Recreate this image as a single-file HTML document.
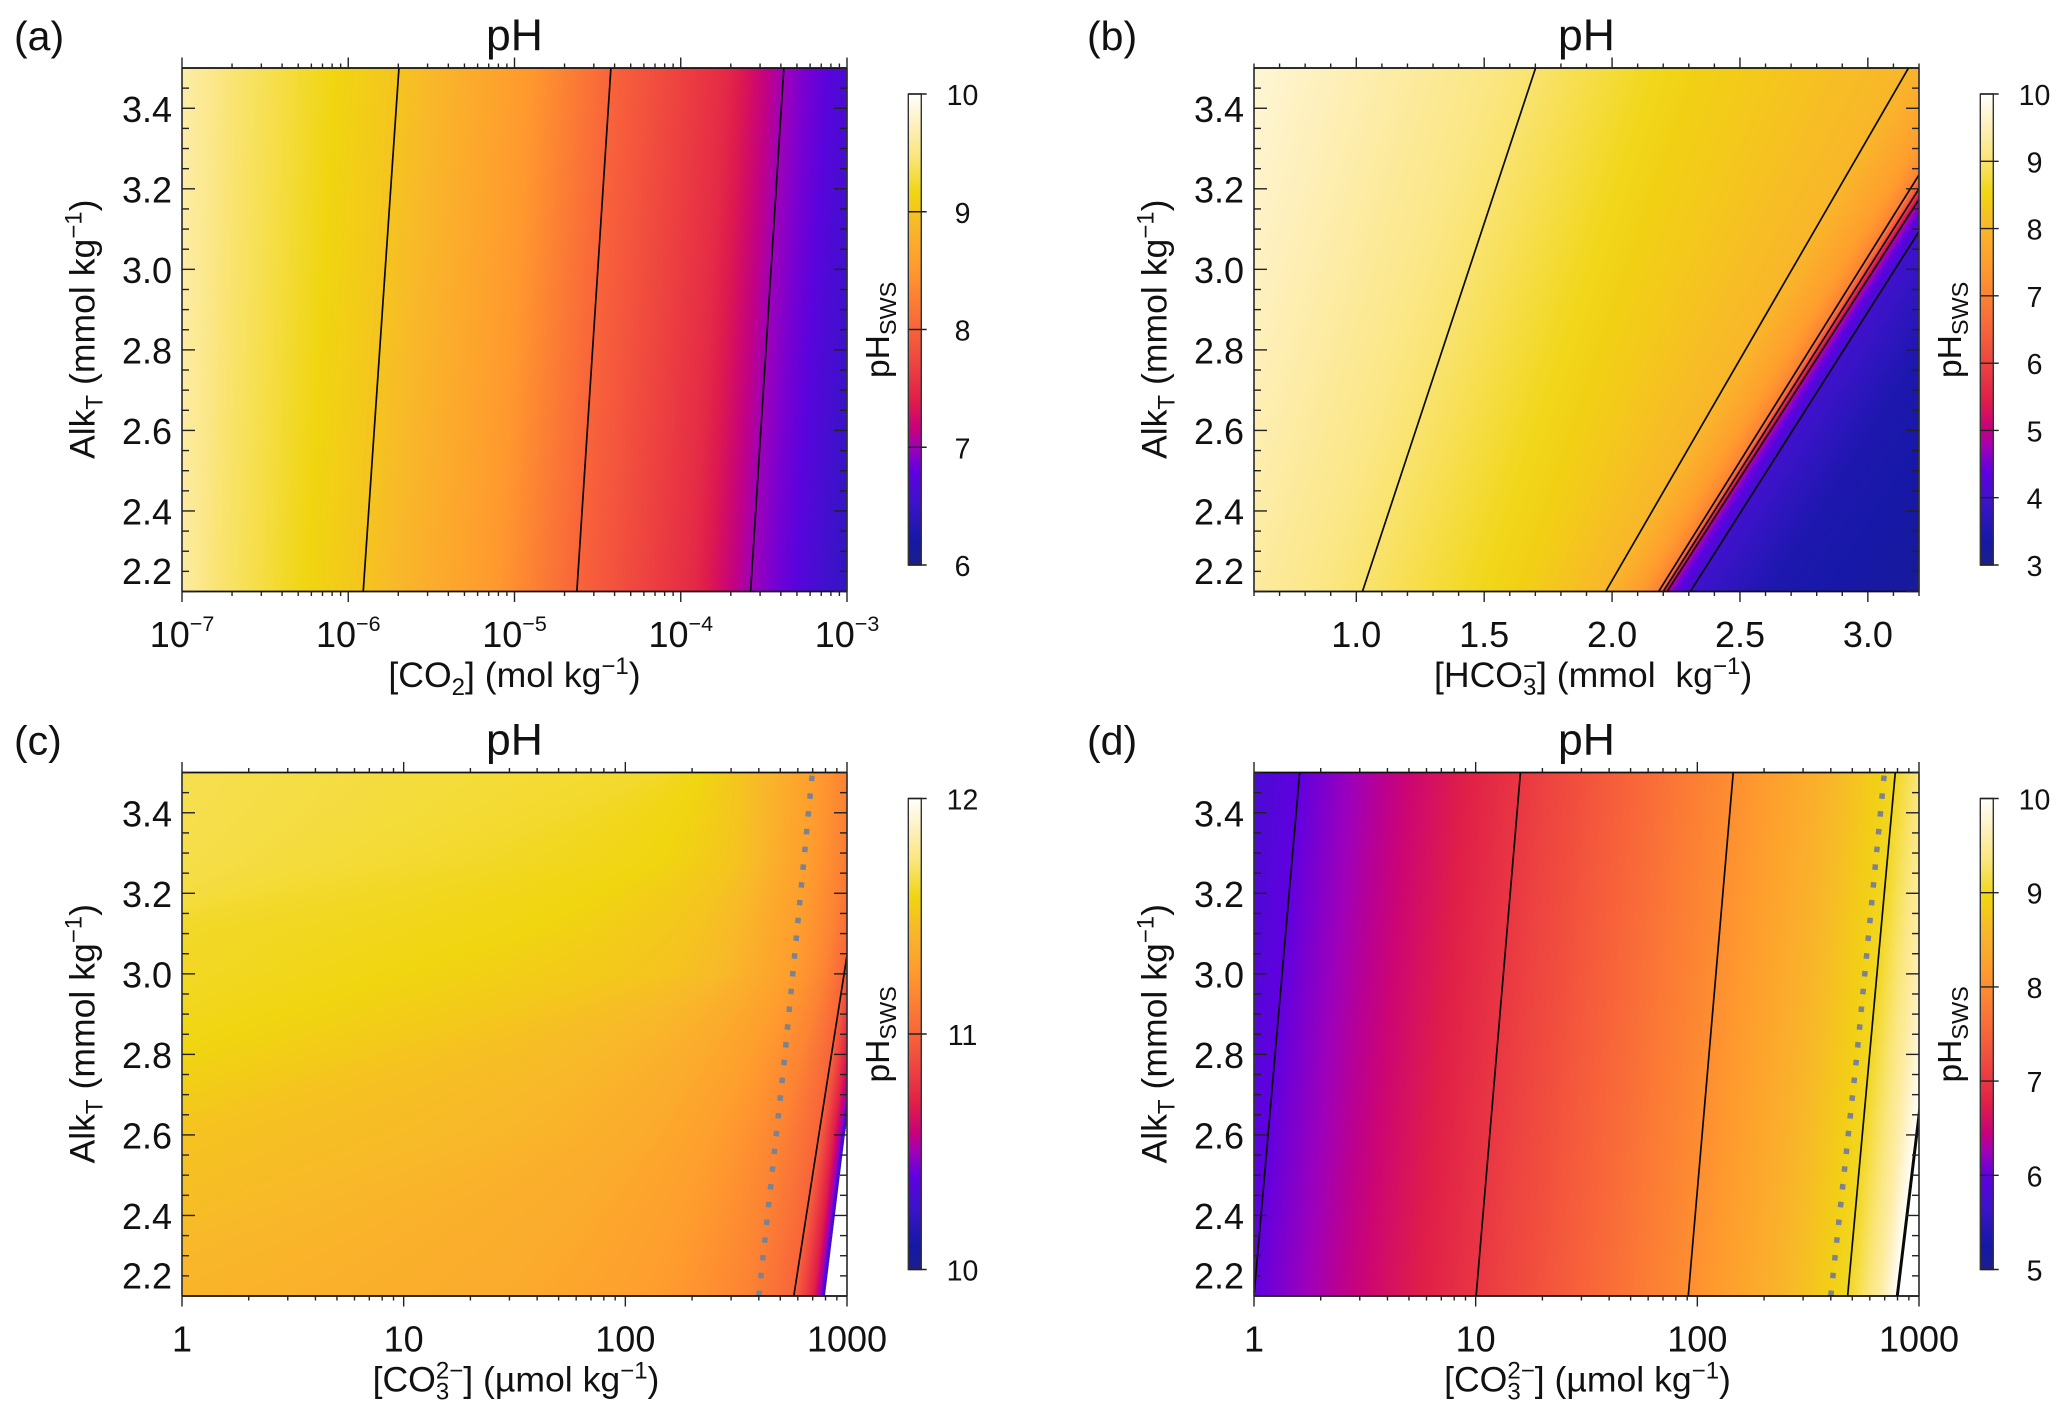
<!DOCTYPE html>
<html lang="en">
<head>
<meta charset="utf-8">
<title>pH contour panels</title>
<style>
html,body{margin:0;padding:0;background:#fff;}
svg{display:block;font-family:"Liberation Sans",sans-serif;fill:#111;}
.letter{font-size:41px;}
.title{font-size:44.5px;text-anchor:middle;}
.axt{font-size:35.6px;}
.cbt{font-size:33.5px;}
</style>
</head>
<body>
<svg id="figure" width="2067" height="1418" viewBox="0 0 2067 1418">
  <defs id="defs"></defs>
  <g id="panel-a">
    <g id="plot-a"></g>
    <text class="letter" x="14" y="50">(a)</text>
    <text class="title" x="514.5" y="50">pH</text>
    <text class="axt" text-anchor="middle" x="514.5" y="687">[CO<tspan font-size="24" dy="8">2</tspan><tspan dy="-8">] (mol kg</tspan><tspan font-size="24" dy="-13">−1</tspan><tspan dy="13">)</tspan></text>
    <text class="axt" transform="translate(94.5,459) rotate(-90)">Alk<tspan font-size="24" dy="8">T</tspan><tspan dy="-8"> (mmol kg</tspan><tspan font-size="24" dy="-13">−1</tspan><tspan dy="13">)</tspan></text>
    <text class="cbt" transform="translate(889,378) rotate(-90)">pH<tspan font-size="23.5" dy="7">SWS</tspan></text>
  </g>
  <g id="panel-b" transform="translate(1072,0)">
    <g id="plot-b"></g>
    <text class="letter" x="15" y="50">(b)</text>
    <text class="title" x="514.5" y="50">pH</text>
    <text class="axt" x="362" y="687">[HCO<tspan font-size="24" dy="8">3</tspan><tspan font-size="24" dx="-13.3" dy="-21">−</tspan><tspan dy="13">] (mmol&#160;&#160;kg</tspan><tspan font-size="24" dy="-13">−1</tspan><tspan dy="13">)</tspan></text>
    <text class="axt" transform="translate(94.5,459) rotate(-90)">Alk<tspan font-size="24" dy="8">T</tspan><tspan dy="-8"> (mmol kg</tspan><tspan font-size="24" dy="-13">−1</tspan><tspan dy="13">)</tspan></text>
    <text class="cbt" transform="translate(889,378) rotate(-90)">pH<tspan font-size="23.5" dy="7">SWS</tspan></text>
  </g>
  <g id="panel-c" transform="translate(0,704.5)">
    <g id="plot-c"></g>
    <text class="letter" x="14" y="50">(c)</text>
    <text class="title" x="514.5" y="50">pH</text>
    <text class="axt" text-anchor="middle" x="516" y="687">[CO<tspan font-size="24" dy="8">3</tspan><tspan font-size="24" dx="-13.3" dy="-21">2−</tspan><tspan dy="13">] (µmol kg</tspan><tspan font-size="24" dy="-13">−1</tspan><tspan dy="13">)</tspan></text>
    <text class="axt" transform="translate(94.5,459) rotate(-90)">Alk<tspan font-size="24" dy="8">T</tspan><tspan dy="-8"> (mmol kg</tspan><tspan font-size="24" dy="-13">−1</tspan><tspan dy="13">)</tspan></text>
    <text class="cbt" transform="translate(889,378) rotate(-90)">pH<tspan font-size="23.5" dy="7">SWS</tspan></text>
  </g>
  <g id="panel-d" transform="translate(1072,704.5)">
    <g id="plot-d"></g>
    <text class="letter" x="15" y="50">(d)</text>
    <text class="title" x="514.5" y="50">pH</text>
    <text class="axt" text-anchor="middle" x="515.5" y="687">[CO<tspan font-size="24" dy="8">3</tspan><tspan font-size="24" dx="-13.3" dy="-21">2−</tspan><tspan dy="13">] (µmol kg</tspan><tspan font-size="24" dy="-13">−1</tspan><tspan dy="13">)</tspan></text>
    <text class="axt" transform="translate(94.5,459) rotate(-90)">Alk<tspan font-size="24" dy="8">T</tspan><tspan dy="-8"> (mmol kg</tspan><tspan font-size="24" dy="-13">−1</tspan><tspan dy="13">)</tspan></text>
    <text class="cbt" transform="translate(889,378) rotate(-90)">pH<tspan font-size="23.5" dy="7">SWS</tspan></text>
  </g>
</svg>
<script>
/* ---------- colour scale ---------- */
const cmapPositions = [0, 0.05, 0.13, 0.2, 0.25, 0.29, 0.35, 0.43, 0.5, 0.63, 0.72, 0.79, 0.87, 0.93, 1];
const cmapColors = ['#1b1f8a', '#1518a6', '#3a14c8', '#6000e0', '#a000b8', '#c8007c', '#e01e48', '#ee4540', '#f8643a', '#ff9a2e', '#f8b82a', '#f0d510', '#fbe680', '#feefb8', '#ffffff'];

/* ---------- shared y axis (total alkalinity, mmol/kg) ---------- */
const alkMajorTicks = [2.2, 2.4, 2.6, 2.8, 3.0, 3.2, 3.4];
const alkMajorLabels = ['2.2', '2.4', '2.6', '2.8', '3.0', '3.2', '3.4'];
const alkMinorTicks = [2.25, 2.3, 2.35, 2.45, 2.5, 2.55, 2.65, 2.7, 2.75, 2.85, 2.9, 2.95, 3.05, 3.1, 3.15, 3.25, 3.3, 3.35, 3.45, 3.5];
const logMinorMantissas = [2, 3, 4, 5, 6, 7, 8, 9];

/* ---------- panel a: x = log10 [CO2] ---------- */
const alkRowsA = [2.2, 3.5];
const phLevelsA = [10, 9.7, 9.45, 9.16, 9, 8.5, 8, 7.5, 7, 6.5, 6];
const isoA_alk22 = [-7.9, -7.1, -6.8, -6.25, -5.91, -5.1, -4.625, -3.93, -3.58, -3.05, -2.5];
const isoA_alk35 = [-7.7, -7.08, -6.7, -6.08, -5.695, -4.9, -4.42, -3.73, -3.38, -2.85, -2.3];
const contoursA = [9, 8, 7];
const xMajorA = [-7, -6, -5, -4, -3];
const xExponentsA = ['−7', '−6', '−5', '−4', '−3'];
const cbarTicksA = [6, 7, 8, 9, 10];

/* ---------- panel b: x = [HCO3-] mmol/kg ---------- */
const alkRowsB = [2.2, 3.5];
const phLevelsB = [10, 9.5, 9, 8.45, 8, 7.5, 7, 6, 5, 4.5, 4, 3.5, 3];
const isoB_alk22 = [-0.4, 0.38, 1.024, 1.64, 1.975, 2.1, 2.182, 2.2, 2.215, 2.24, 2.306, 2.6, 3.6];
const isoB_alk35 = [0.1, 0.95, 1.701, 2.33, 3.159, 3.38, 3.461, 3.5, 3.53, 3.56, 3.606, 3.9, 4.9];
const contoursB = [9, 8, 7, 6, 5, 4];
const xMajorB = [1.0, 1.5, 2.0, 2.5, 3.0];
const xLabelsB = ['1.0', '1.5', '2.0', '2.5', '3.0'];
const xMinorB = [0.6, 0.7, 0.8, 0.9, 1.1, 1.2, 1.3, 1.4, 1.6, 1.7, 1.8, 1.9, 2.1, 2.2, 2.3, 2.4, 2.6, 2.7, 2.8, 2.9, 3.1, 3.2];
const cbarTicksB = [3, 4, 5, 6, 7, 8, 9, 10];

/* ---------- panel c: x = log10 [CO3 2-] umol/kg ---------- */
const alkRowsC = [2.2, 2.6, 3.0, 3.1, 3.28, 3.5];
const phLevelsC = [12, 11.67, 11.62, 11.58, 11.5, 11.44, 11.36, 11.28, 11.15, 11, 10.7, 10.5, 10.3, 10.2];
const isoC_alk220 = [-6.5, -3.1, -2.6, -2.2, -1.4, -0.56, 1.5, 2.15, 2.55, 2.76, 2.85, 2.88, 2.893, 2.9];
const isoC_alk260 = [-5.3, -2.0, -1.5, -1.1, -0.1, 1.4, 2.1, 2.42, 2.7, 2.873, 2.94, 2.97, 2.983, 2.99];
const isoC_alk300 = [-4.2, -0.9, -0.4, 1.0, 2.2, 2.45, 2.6, 2.75, 2.9, 2.987, 3.05, 3.08, 3.093, 3.1];
const isoC_alk310 = [-3.8, -0.5, -0.3, 1.57, 2.3, 2.5, 2.63, 2.78, 2.93, 3.015, 3.08, 3.1, 3.115, 3.12];
const isoC_alk328 = [-3.5, -0.2, 1.2, 2.17, 2.5, 2.6, 2.7, 2.83, 2.97, 3.065, 3.13, 3.15, 3.16, 3.17];
const isoC_alk350 = [-3.3, 0, 2.15, 2.35, 2.52, 2.62, 2.74, 2.85, 3.0, 3.128, 3.19, 3.21, 3.22, 3.23];
const contoursC = [11];
const xMajorC = [0, 1, 2, 3];
const xLabelsC = ['1', '10', '100', '1000'];
const cbarTicksC = [10, 11, 12];

/* ---------- panel d: x = log10 [CO3 2-] umol/kg ---------- */
const alkRowsD = [2.2, 3.5];
const phLevelsD = [5, 5.5, 6, 6.5, 7, 7.5, 8, 8.5, 9, 9.5, 10];
const isoD_alk22 = [-1.0, -0.5, 0, 0.5, 1.002, 1.5, 1.959, 2.35, 2.678, 2.82, 2.902];
const isoD_alk35 = [-0.8, -0.3, 0.206, 0.7, 1.202, 1.7, 2.162, 2.56, 2.893, 3.05, 3.186];
const contoursD = [6, 7, 8, 9];
const thickContoursD = [10];
const xMajorD = [0, 1, 2, 3];
const xLabelsD = ['1', '10', '100', '1000'];
const cbarTicksD = [5, 6, 7, 8, 9, 10];

/* ---------- dotted saturation curve in panels c and d ---------- */
const omegaAlk = [2.2, 2.8, 3.5];
const omegaCO3 = [400, 525, 698];

/* ---------- drawing ---------- */
const svgRoot = document.getElementById('figure');
const svgNS = svgRoot.namespaceURI;
const defs = document.getElementById('defs');
const PLOT_L = 182, PLOT_R = 847, PLOT_T = 68, PLOT_B = 591.5;
const BAR_L = 908.3, BAR_R = 921.3, BAR_T = 94, BAR_B = 565, BAR_TICK = 926.7, BAR_LABEL_X = 962.5;
let uid = 0;

function mk(parent, tag, attrs) {
  const el = document.createElementNS(svgNS, tag);
  for (const k in attrs) el.setAttribute(k, attrs[k]);
  parent.appendChild(el);
  return el;
}
function hexRgb(h) {
  return [parseInt(h.slice(1, 3), 16), parseInt(h.slice(3, 5), 16), parseInt(h.slice(5, 7), 16)];
}
function colorAt(f) {
  f = Math.max(0, Math.min(1, f));
  let i = 0;
  while (i < cmapPositions.length - 2 && f > cmapPositions[i + 1]) i++;
  const t = (f - cmapPositions[i]) / (cmapPositions[i + 1] - cmapPositions[i]);
  const a = hexRgb(cmapColors[i]), b = hexRgb(cmapColors[i + 1]);
  return 'rgb(' + a.map((v, j) => Math.round(v + (b[j] - v) * t)).join(',') + ')';
}
function yPx(alk) {
  return PLOT_B - (alk - 2.2) / 1.3 * (PLOT_B - PLOT_T);
}
function isoPositions(p, alk) {
  let r = 0;
  while (r < p.alkRows.length - 2 && alk > p.alkRows[r + 1]) r++;
  const t = (alk - p.alkRows[r]) / (p.alkRows[r + 1] - p.alkRows[r]);
  return p.levels.map((_, i) => p.iso[r][i] + (p.iso[r + 1][i] - p.iso[r][i]) * t);
}

function drawPanel(p) {
  const root = document.getElementById(p.id);
  const xPx = v => PLOT_L + (v - p.xMin) / (p.xMax - p.xMin) * (PLOT_R - PLOT_L);
  const clipId = 'clip' + p.key;
  const clip = mk(defs, 'clipPath', { id: clipId });
  mk(clip, 'rect', { x: PLOT_L, y: PLOT_T, width: PLOT_R - PLOT_L, height: PLOT_B - PLOT_T });

  /* heatmap: each row is a band whose gradient stops come from the isoline tables */
  const heat = mk(root, 'g', { 'clip-path': 'url(#' + clipId + ')' });
  
  
  for (let y = PLOT_T; y < PLOT_B; y += 2) {
    const alk = 2.2 + (PLOT_B - (y + 1)) / (PLOT_B - PLOT_T) * 1.3;
    const pos = isoPositions(p, alk);
    const stops = [];
    for (let i = 0; i < p.levels.length - 1; i++) {
      for (let s = 0; s < 4; s++) {
        const t = s / 4;
        stops.push([xPx(pos[i] + (pos[i + 1] - pos[i]) * t), p.levels[i] + (p.levels[i + 1] - p.levels[i]) * t]);
      }
    }
    stops.push([xPx(pos[pos.length - 1]), p.levels[p.levels.length - 1]]);
    const x1 = stops[0][0], x2 = stops[stops.length - 1][0];
    const gid = 'g' + (uid++);
    const grad = mk(defs, 'linearGradient', { id: gid, gradientUnits: 'userSpaceOnUse', x1: x1, x2: x2, y1: 0, y2: 0 });
    stops.forEach(st => {
      mk(grad, 'stop', { offset: ((st[0] - x1) / (x2 - x1)).toFixed(5), 'stop-color': colorAt((st[1] - p.cMin) / (p.cMax - p.cMin)) });
    });
    const right = Math.min(PLOT_R, x2);
    const band = mk(heat, 'rect', { x: PLOT_L, y: y, width: Math.max(0, right - PLOT_L), height: 2.6, fill: 'url(#' + gid + ')' });
    
    
  }

  /* contours */
  const lines = mk(root, 'g', { 'clip-path': 'url(#' + clipId + ')', fill: 'none', stroke: '#0a0a0a' });
  
  
  function contour(level, width) {
    const i = p.levels.indexOf(level);
    const pts = p.alkRows.map((a, r) => xPx(p.iso[r][i]).toFixed(2) + ',' + yPx(a).toFixed(2)).join(' ');
    const c = mk(lines, 'polyline', { points: pts, 'stroke-width': width });
    
    
  }
  p.contours.forEach(l => contour(l, 1.7));
  (p.thick || []).forEach(l => contour(l, 3));

  /* dotted curve */
  if (p.omega) {
    const pts = omegaAlk.map((a, i) => xPx(Math.log10(omegaCO3[i])).toFixed(2) + ',' + yPx(a).toFixed(2)).join(' ');
    const dots = mk(root, 'polyline', { points: pts, fill: 'none', stroke: '#7d838e', 'stroke-width': 5.5, 'stroke-dasharray': '5.5 12.35', 'clip-path': 'url(#' + clipId + ')' });
    
    
  }

  /* axes */
  const axes = mk(root, 'g', { stroke: '#222', fill: 'none' });
  
  
  function seg(x1, y1, x2, y2, w, col) {
    return mk(axes, 'line', { x1: x1, y1: y1, x2: x2, y2: y2, 'stroke-width': w, stroke: col || '#222' });
  }
  const frameTop = seg(PLOT_L, PLOT_T, PLOT_R, PLOT_T, 1.7, '#111');
  
  
  const frameBottom = seg(PLOT_L, PLOT_B, PLOT_R, PLOT_B, 1.7, '#111');
  
  
  const frameLeft = seg(PLOT_L, PLOT_T, PLOT_L, PLOT_B, 1.7, '#333');
  
  
  const frameRight = seg(PLOT_R, PLOT_T, PLOT_R, PLOT_B, 1.7, '#333');
  
  

  function xTick(v, major) {
    const x = xPx(v), len = major ? 10.5 : 4.5;
    const a = seg(x, PLOT_B, x, PLOT_B + len, 1.4);
    
    
    const b = seg(x, PLOT_T, x, PLOT_T - len, 1.4);
    
    
  }
  p.xMajor.forEach(v => xTick(v, true));
  if (p.xMinor) {
    p.xMinor.forEach(v => xTick(v, false));
  } else {
    p.xMajor.slice(0, -1).forEach(d => logMinorMantissas.forEach(m => xTick(d + Math.log10(m), false)));
  }
  function yTick(v, major) {
    const y = yPx(v), len = major ? 13 : 7;
    const a = seg(PLOT_L, y, PLOT_L + len, y, 1.4);
    
    
    const b = seg(PLOT_R, y, PLOT_R - len, y, 1.4);
    
    
  }
  alkMajorTicks.forEach(v => yTick(v, true));
  alkMinorTicks.forEach(v => yTick(v, false));

  /* tick labels */
  alkMajorTicks.forEach((v, i) => {
    const shift = i === 0 ? -20 : 1;
    const t = mk(root, 'text', { x: 172, y: yPx(v) + shift + 12.5, 'text-anchor': 'end', 'font-size': 36 });
    t.textContent = alkMajorLabels[i];
    
    
  });
  p.xMajor.forEach((v, i) => {
    const t = mk(root, 'text', { x: xPx(v), y: 647, 'text-anchor': 'middle', 'font-size': 36 });
    if (p.xExp) {
      t.textContent = '10';
      const sup = mk(t, 'tspan', { 'font-size': 21.5, dy: -16 });
      sup.textContent = p.xExp[i];
      
      
    } else {
      t.textContent = p.xLabels[i];
    }
    
    
  });

  /* colour bar */
  const gid = 'bar' + p.key;
  const grad = mk(defs, 'linearGradient', { id: gid, x1: 0, x2: 0, y1: 1, y2: 0 });
  cmapPositions.forEach((f, i) => mk(grad, 'stop', { offset: f, 'stop-color': cmapColors[i] }));
  const bar = mk(root, 'rect', { x: BAR_L, y: BAR_T, width: BAR_R - BAR_L, height: BAR_B - BAR_T, fill: 'url(#' + gid + ')', stroke: '#333', 'stroke-width': 1.4 });
  
  
  p.cbarTicks.forEach(v => {
    const y = BAR_B - (v - p.cMin) / (p.cMax - p.cMin) * (BAR_B - BAR_T);
    const tick = mk(root, 'line', { x1: BAR_L, x2: BAR_TICK, y1: y, y2: y, stroke: '#222', 'stroke-width': 1.4 });
    
    
    const lab = mk(root, 'text', { x: BAR_LABEL_X, y: y + 11, 'text-anchor': 'middle', 'font-size': 28.5 });
    lab.textContent = String(v);
    
    
  });
}

drawPanel({ id: 'plot-a', key: 'a', xMin: -7, xMax: -3, cMin: 6, cMax: 10, alkRows: alkRowsA, levels: phLevelsA,
  iso: [isoA_alk22, isoA_alk35], contours: contoursA, xMajor: xMajorA, xExp: xExponentsA, cbarTicks: cbarTicksA });
drawPanel({ id: 'plot-b', key: 'b', xMin: 0.6, xMax: 3.2, cMin: 3, cMax: 10, alkRows: alkRowsB, levels: phLevelsB,
  iso: [isoB_alk22, isoB_alk35], contours: contoursB, xMajor: xMajorB, xMinor: xMinorB, xLabels: xLabelsB, cbarTicks: cbarTicksB });
drawPanel({ id: 'plot-c', key: 'c', xMin: 0, xMax: 3, cMin: 10, cMax: 12, alkRows: alkRowsC, levels: phLevelsC,
  iso: [isoC_alk220, isoC_alk260, isoC_alk300, isoC_alk310, isoC_alk328, isoC_alk350], contours: contoursC, xMajor: xMajorC, xLabels: xLabelsC, cbarTicks: cbarTicksC, omega: true });
drawPanel({ id: 'plot-d', key: 'd', xMin: 0, xMax: 3, cMin: 5, cMax: 10, alkRows: alkRowsD, levels: phLevelsD,
  iso: [isoD_alk22, isoD_alk35], contours: contoursD, thick: thickContoursD, xMajor: xMajorD, xLabels: xLabelsD, cbarTicks: cbarTicksD, omega: true });
</script>
</body>
</html>
